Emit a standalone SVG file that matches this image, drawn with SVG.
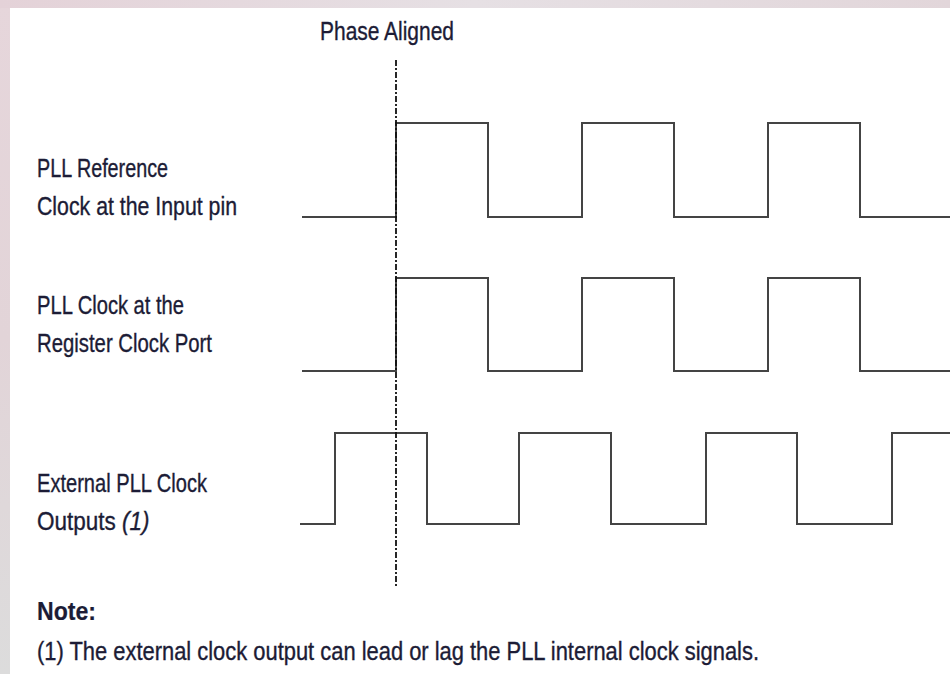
<svg xmlns="http://www.w3.org/2000/svg" width="950" height="674" viewBox="0 0 950 674">
<defs>
<linearGradient id="bg" x1="0" y1="0" x2="0" y2="1">
<stop offset="0" stop-color="#e6d6db"/>
<stop offset="0.5" stop-color="#e2d4d8"/>
<stop offset="1" stop-color="#dcdcdc"/>
</linearGradient>
<linearGradient id="bgt" x1="0" y1="0" x2="1" y2="0">
<stop offset="0" stop-color="#e4d2d8"/>
<stop offset="0.5" stop-color="#e6e0e4"/>
<stop offset="1" stop-color="#e2d6da"/>
</linearGradient>
</defs>
<style>
.lbl{font-family:"Liberation Sans",Arial,sans-serif;font-size:25px;fill:#1c1c36;stroke:#1c1c36;stroke-width:0.35}
.b{font-weight:bold;stroke-width:0.2}
.i{font-style:italic}
.wave{fill:none;stroke:#444;stroke-width:2;stroke-linejoin:miter}
.dash{fill:none;stroke:#111;stroke-width:1.8;stroke-dasharray:6 2 2 2}
</style>
<rect x="0" y="0" width="950" height="674" fill="url(#bg)"/>
<rect x="0" y="0" width="950" height="8" fill="url(#bgt)"/>
<rect x="10" y="8" width="940" height="666" fill="#ffffff"/>

<g id="title">
<text class="lbl" x="320" y="40" textLength="134" lengthAdjust="spacingAndGlyphs">Phase Aligned</text>
</g>

<g id="label-ref">
<text class="lbl" x="37" y="177" textLength="131" lengthAdjust="spacingAndGlyphs">PLL Reference</text>
<text class="lbl" x="37" y="215" textLength="200" lengthAdjust="spacingAndGlyphs">Clock at the Input pin</text>
</g>
<g id="label-reg">
<text class="lbl" x="37" y="314" textLength="147" lengthAdjust="spacingAndGlyphs">PLL Clock at the</text>
<text class="lbl" x="37" y="352" textLength="175" lengthAdjust="spacingAndGlyphs">Register Clock Port</text>
</g>
<g id="label-ext">
<text class="lbl" x="37" y="492" textLength="170" lengthAdjust="spacingAndGlyphs">External PLL Clock</text>
<text class="lbl" transform="translate(37,530) scale(0.9,1)" x="0" y="0">Outputs <tspan class="i">(1)</tspan></text>
</g>

<g id="waves">
<path id="wave-ref" class="wave" d="M302,217 H396 V123 H488 V217 H582 V123 H674 V217 H768 V123 H860 V217 H950"/>
<path id="wave-reg" class="wave" d="M302,371 H396 V278 H488 V371 H582 V278 H674 V371 H768 V278 H860 V371 H950"/>
<path id="wave-ext" class="wave" d="M300,524 H335 V433 H427 V524 H519 V433 H611 V524 H706 V433 H797 V524 H892 V433 H950"/>
</g>
<g id="connectors">
<line class="dash" x1="396" y1="60" x2="396" y2="587"/>
</g>

<g id="note">
<text class="lbl b" x="37" y="620" textLength="59" lengthAdjust="spacingAndGlyphs">Note:</text>
<text class="lbl" x="37" y="660" textLength="722" lengthAdjust="spacingAndGlyphs">(1) The external clock output can lead or lag the PLL internal clock signals.</text>
</g>
</svg>
